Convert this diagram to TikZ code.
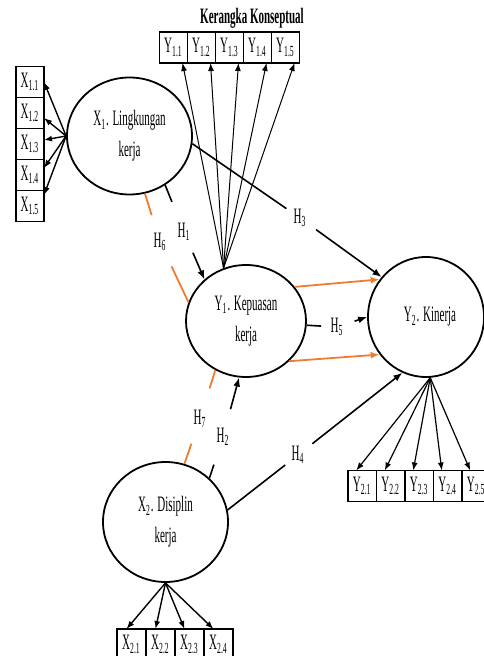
\documentclass[tikz,border=0pt]{standalone}
\usepackage{fontspec}
\setmainfont{Liberation Serif}[FakeStretch=0.5]
\usetikzlibrary{arrows.meta,positioning,shapes.geometric}
\definecolor{garisoranye}{RGB}{237,125,49}
\tikzset{
	konstruk/.style={ellipse, draw, line width=0.9pt, align=center, font=\fontsize{11}{15.5}\selectfont},
	indikator/.style={rectangle, draw, line width=0.7pt, minimum width=14pt, minimum height=15.5pt, inner sep=0pt, outer sep=0pt, font=\fontsize{11}{12}\selectfont},
	hipotesis/.style={inner sep=3pt, font=\fontsize{11}{12}\selectfont},
	muatan/.style={-{Latex[length=4pt,width=3pt]}, line width=0.5pt},
	jalur/.style={line width=0.8pt},
	panah/.style={-{Latex[length=4.5pt,width=3.5pt]}},
	oranye/.style={color=garisoranye, line width=0.9pt},
}

\begin{document}
\begin{tikzpicture}[x=0.5pt, y=-0.5pt]
				\useasboundingbox (0,0) rectangle (483,656);
				
				\node[font=\fontsize{11}{12}\selectfont\bfseries] (judul) at (252,18) {Kerangka Konseptual};
				
				% konstruk
				\node[konstruk, minimum width=62.5pt, minimum height=58.5pt] (X1) at (129.5,136) {X\textsubscript{1}. Lingkungan\\kerja};
				\node[konstruk, minimum width=60pt, minimum height=56pt] (Y1) at (246,321) {Y\textsubscript{1}. Kepuasan\\kerja};
				\node[konstruk, minimum width=58pt, minimum height=60pt] (Y2) at (426,317) {\hspace{4pt}Y\textsubscript{2}. Kinerja};
				\node[konstruk, minimum width=62.5pt, minimum height=60pt] (X2) at (165.5,522) {X\textsubscript{2}. Disiplin\\kerja};
				
				% indikator
				\node[indikator] (y11) at (173.5,47.5) {Y\textsubscript{1.1}};
				\foreach \i [remember=\i as \j (initially 1)] in {2,...,5}
					\node[indikator, right=0pt of y1\j] (y1\i) {Y\textsubscript{1.\i}};
				\node[indikator] (x11) at (30,82) {X\textsubscript{1.1}};
				\foreach \i [remember=\i as \j (initially 1)] in {2,...,5}
					\node[indikator, below=0pt of x1\j] (x1\i) {X\textsubscript{1.\i}};
				\node[indikator, minimum width=14.25pt] (y21) at (362.25,486) {Y\textsubscript{2.1}};
				\foreach \i [remember=\i as \j (initially 1)] in {2,...,5}
					\node[indikator, minimum width=14.25pt, right=0pt of y2\j] (y2\i) {Y\textsubscript{2.\i}};
				\node[indikator, minimum width=14.5pt] (x21) at (131.5,644.5) {X\textsubscript{2.1}};
				\foreach \i [remember=\i as \j (initially 1)] in {2,...,4}
					\node[indikator, minimum width=14.5pt, right=0pt of x2\j] (x2\i) {X\textsubscript{2.\i}};
				
				\foreach \i in {1,...,5}
					\draw[muatan] (Y1.113) -- ([xshift=4.5pt]y1\i.south);
				\foreach \i/\s in {1/0,2/-2.5,3/2,4/3.5,5/5.5}
					\draw[muatan, line width=0.7pt] (X1.west) -- ([yshift=\s pt]x1\i.east);
				\foreach \i in {1,...,5}
					\draw[muatan, line width=0.6pt] (Y2.-86) -- ([xshift=-3pt]y2\i.north);
				\foreach \i in {1,...,4}
					\draw[muatan, line width=0.7pt] (X2.south) -- ([xshift=-2.5pt]x2\i.north);
				
				% hipotesis
				\node[hipotesis] (h1) at (184,232) {H\textsubscript{1}};
				\node[hipotesis] (h2) at (223,437) {H\textsubscript{2}};
				\node[hipotesis] (h3) at (300,218) {H\textsubscript{3}};
				\node[hipotesis] (h4) at (298,455) {H\textsubscript{4}};
				\node[hipotesis] (h5) at (337,327) {H\textsubscript{5}};
				\node[hipotesis] (h6) at (160,242) {H\textsubscript{6}};
				\node[hipotesis] (h7) at (200,419) {H\textsubscript{7}};
				
				\draw[jalur, shorten >=8pt] (X1.-54) -- (h1);
				\draw[jalur, panah, shorten <=3pt] (h1) -- (Y1.135);
				\draw[jalur, shorten >=6.5pt] (X2.45) -- (h2);
				\draw[jalur, panah, shorten <=6.5pt] (h2) -- (Y1.-97);
				\draw[jalur, shorten >=0.5pt] (X1.-7) -- (h3);
				\draw[jalur, panah, shorten <=2pt] (h3) -- (Y2.138);
				\draw[jalur] (X2.11) -- (h4);
				\draw[jalur, panah, shorten <=1pt] (h4) -- (Y2.-113);
				\draw[jalur, shorten >=1.5pt] (Y1.-4) -- (h5);
				\draw[jalur, panah, shorten <=2.5pt] (h5) -- (Y2.west);
				
				\draw[oranye, shorten >=6pt] (X1.-75) -- (h6);
				\draw[oranye, shorten <=5pt] (h6) -- (Y1.162);
				\draw[oranye, shorten >=5pt] (X2.72) -- (h7);
				\draw[oranye, shorten <=8pt] (h7) -- (Y1.-122);
				\draw[oranye, panah] (Y1.35) -- (Y2.141);
				\draw[oranye, panah] (Y1.-43) -- (Y2.-141);
\end{tikzpicture}
\end{document}
